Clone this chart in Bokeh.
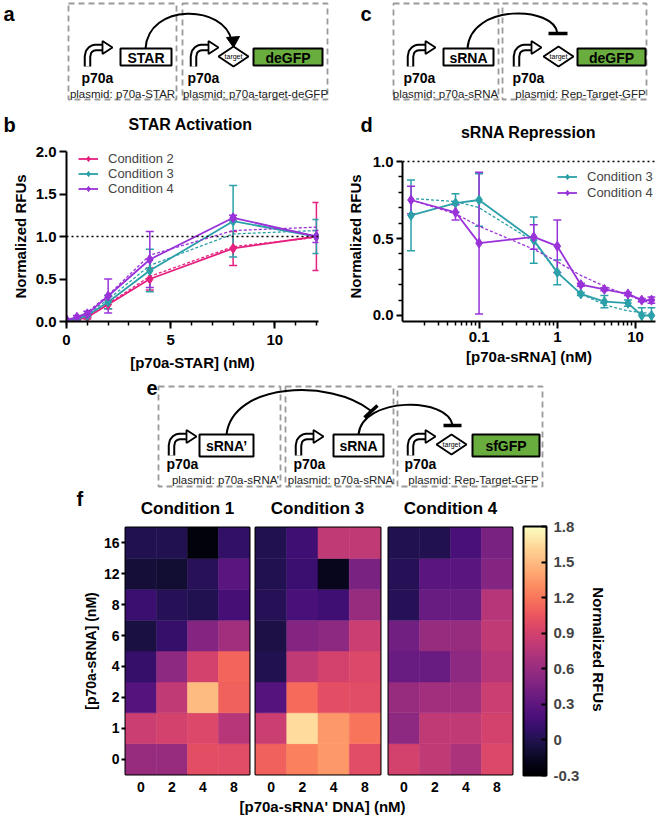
import math
from bokeh.plotting import figure
from bokeh.models import (Range1d, FactorRange, ColumnDataSource, Whisker, TeeHead, Span,
                          Legend, LegendItem, FixedTicker, CustomJSTickFormatter,
                          LinearColorMapper, ColorBar, NumeralTickFormatter)
from bokeh.layouts import column, row
from bokeh.palettes import Magma256
from bokeh.core.properties import value
from bokeh.embed import file_html
from bokeh.resources import INLINE

FONT = "Liberation Sans"

# ---------------- data ----------------
# panel b : STAR activation
star_nM = [0, 0.5, 1, 2, 4, 8, 12]
b_cond2 = [0.0, 0.02, 0.05, 0.20, 0.50, 0.86, 1.00]
b_cond2_err = [0.0, 0.01, 0.02, 0.05, 0.13, 0.20, 0.40]
b_cond2_fit = [0.0, 0.03, 0.07, 0.21, 0.53, 0.88, 0.99]
b_cond3 = [0.01, 0.03, 0.07, 0.23, 0.60, 1.18, 1.00]
b_cond3_err = [0.0, 0.01, 0.02, 0.08, 0.25, 0.42, 0.20]
b_cond3_fit = [0.0, 0.04, 0.09, 0.26, 0.66, 1.03, 1.07]
b_cond4 = [0.02, 0.05, 0.09, 0.30, 0.73, 1.22, 1.00]
b_cond4_err = [0.01, 0.02, 0.03, 0.20, 0.33, 0.03, 0.07]
b_cond4_fit = [0.0, 0.05, 0.11, 0.31, 0.78, 1.07, 1.11]

# panel d : sRNA repression
srna_nM = [0.0135, 0.05, 0.1, 0.5, 1, 2, 4, 8, 12, 16]
d_cond3 = [0.65, 0.73, 0.75, 0.49, 0.28, 0.14, 0.09, 0.08, 0.0, 0.0]
d_cond3_err = [0.23, 0.06, 0.17, 0.15, 0.08, 0.01, 0.04, 0.02, 0.05, 0.05]
d_cond3_fit = [0.76, 0.74, 0.70, 0.48, 0.28, 0.14, 0.07, 0.03, 0.02, 0.01]
d_cond4 = [0.75, 0.67, 0.47, 0.51, 0.45, 0.20, 0.17, 0.14, 0.10, 0.10]
d_cond4_err = [0.09, 0.05, 0.46, 0.08, 0.17, 0.01, 0.01, 0.01, 0.01, 0.02]
d_cond4_fit = [0.75, 0.66, 0.58, 0.43, 0.35, 0.26, 0.19, 0.13, 0.10, 0.08]

# panel f : heatmaps (rows = [p70a-sRNA], cols = [p70a-sRNA' DNA])
srna_levels = ["0", "1", "2", "4", "6", "8", "12", "16"]
srnap_levels = ["0", "2", "4", "8"]
heat_cond1 = [[0.60, 0.60, 1.00, 0.98],
              [0.85, 0.90, 0.95, 0.75],
              [0.25, 0.80, 1.50, 1.10],
              [0.10, 0.55, 0.90, 1.12],
              [-0.05, 0.10, 0.50, 0.65],
              [0.12, 0.02, 0.00, 0.17],
              [-0.08, -0.10, 0.03, 0.28],
              [0.00, 0.00, -0.25, 0.08]]
heat_cond3 = [[1.10, 1.25, 1.35, 0.98],
              [0.85, 1.65, 1.35, 1.20],
              [0.25, 1.15, 1.00, 0.98],
              [0.00, 0.80, 0.90, 0.95],
              [-0.03, 0.50, 0.55, 0.85],
              [0.02, 0.20, 0.15, 0.60],
              [0.00, 0.12, -0.18, 0.45],
              [0.00, 0.15, 0.80, 0.80]]
heat_cond4 = [[0.90, 0.80, 0.70, 0.95],
              [0.55, 0.80, 0.80, 0.90],
              [0.60, 0.65, 0.65, 0.85],
              [0.35, 0.35, 0.55, 0.75],
              [0.40, 0.60, 0.60, 0.80],
              [0.02, 0.35, 0.35, 0.75],
              [0.02, 0.28, 0.28, 0.50],
              [0.00, 0.00, 0.20, 0.45]]
cbar_ticks = [-0.3, 0, 0.3, 0.6, 0.9, 1.2, 1.5, 1.8]

PINK = "#e5207f"
TEAL = "#2ba0a8"
PURPLE = "#9a32d9"
GREEN = "#6aad3f"
BOXGRAY = "#9a9a9a"


# ---------------- helpers ----------------
def canvas(w, h, x0, x1, y0, y1, mbt=0, mbb=0):
    p = figure(width=w, height=h, x_range=Range1d(x0, x1), y_range=Range1d(y1, y0),
               x_axis_type=None, y_axis_type=None, output_backend="svg",
               toolbar_location=None, min_border=0, min_border_top=mbt, min_border_bottom=mbb)
    p.outline_line_color = None
    p.background_fill_color = "white"
    return p


def txt(p, x, y, s, size, bold=True, align="center", color="black", angle=0.0):
    p.text(x=[x], y=[y], text=[s], text_font=value(FONT), text_font_size=f"{size}px",
           text_font_style="bold" if bold else "normal", text_align=align,
           text_baseline="middle", text_color=color, angle=angle)


def dbox(p, l, r, t, b):
    p.quad(left=[l], right=[r], top=[t], bottom=[b], fill_color=None,
           line_color=BOXGRAY, line_width=1.8, line_dash="6 4")


def gene(p, l, r, t, b, label, fill="white"):
    p.quad(left=[l], right=[r], top=[t], bottom=[b], fill_color=fill,
           line_color="black", line_width=2)
    txt(p, (l + r) / 2, (t + b) / 2 + 0.5, label, 14)


def promoter(p, x0, yb):
    xs = [x0, x0, x0 + 1, x0 + 3, x0 + 5.5, x0 + 8, x0 + 16]
    ys = [yb, yb - 10, yb - 14.5, yb - 17, yb - 18.5, yb - 19, yb - 19]
    p.line(xs, ys, line_width=7.5, color="black", line_join="round")
    p.line(xs, ys, line_width=3.5, color="white", line_join="round")
    p.patch([x0 + 15, x0 + 25, x0 + 15], [yb - 25.5, yb - 19, yb - 12.5],
            fill_color="white", line_color="black", line_width=1.8)


def target(p, cx, cy):
    p.patch([cx - 15, cx, cx + 15, cx], [cy, cy - 10, cy, cy + 10],
            fill_color="white", line_color="black", line_width=2)
    txt(p, cx, cy, "target", 7, bold=False)


def style_axis(ax, size=15, tick_out=7):
    ax.axis_line_width = 2
    ax.axis_line_color = "black"
    ax.major_tick_line_width = 2
    ax.minor_tick_line_width = 1.5
    ax.major_tick_line_color = "black"
    ax.minor_tick_line_color = "black"
    ax.major_tick_out = tick_out
    ax.major_tick_in = 0
    ax.minor_tick_out = 4
    ax.minor_tick_in = 0
    ax.major_label_text_font = FONT
    ax.major_label_text_font_style = "bold"
    ax.major_label_text_font_size = f"{size}px"
    ax.major_label_text_color = "black"
    ax.axis_label_text_font = FONT
    ax.axis_label_text_font_style = "bold"
    ax.axis_label_text_font_size = f"{size}px"
    ax.axis_label_text_color = "black"


def series(p, x, y, err, fit, color):
    lower = [a - e for a, e in zip(y, err)]
    upper = [a + e for a, e in zip(y, err)]
    src = ColumnDataSource(dict(x=x, y=y, lower=lower, upper=upper, fit=fit))
    p.line("x", "fit", source=src, color=color, line_width=1.3, line_dash="3 2")
    w = Whisker(base="x", upper="upper", lower="lower", source=src, line_color=color,
                line_width=1.5,
                upper_head=TeeHead(size=8, line_color=color, line_width=1.5),
                lower_head=TeeHead(size=8, line_color=color, line_width=1.5))
    p.add_layout(w)
    lr = p.line("x", "y", source=src, color=color, line_width=1.8)
    sr = p.scatter("x", "y", source=src, marker="diamond", size=10, fill_color=color,
                   line_color=color)
    return [lr, sr]


def style_legend(lg, spacing):
    lg.border_line_color = None
    lg.background_fill_alpha = 0
    lg.label_text_font = FONT
    lg.label_text_font_size = "13px"
    lg.glyph_width = 20
    lg.glyph_height = 13
    lg.label_height = 13
    lg.spacing = spacing
    lg.padding = 0
    lg.margin = 0
    lg.label_standoff = 10


# ---------------- top diagrams (a, c) ----------------
top = canvas(658, 142, 0, 658, 0, 142)
# panel a
dbox(top, 68, 176, 3, 99)
dbox(top, 182, 327, 3, 99)
promoter(top, 87, 66)
gene(top, 120, 171, 48, 65, "STAR")
txt(top, 81, 77, "p70a", 14, align="left")
top.bezier(x0=[145], y0=[48], x1=[231], y1=[40], cx0=[148], cy0=[2], cx1=[224], cy1=[4],
           line_color="black", line_width=2)
top.patch([233, 226, 239], [47, 37, 36], fill_color="black", line_color="black")
promoter(top, 193, 66)
txt(top, 187, 77, "p70a", 14, align="left")
target(top, 233, 56)
gene(top, 253, 322, 48, 65, "deGFP", fill=GREEN)
txt(top, 122, 93, "plasmid: p70a-STAR", 11.5, bold=False, color="#222222")
txt(top, 255, 93, "plasmid: p70a-target-deGFP", 11.5, bold=False, color="#222222")
# panel c
dbox(top, 393, 498, 3, 99)
dbox(top, 502, 646, 3, 99)
promoter(top, 410, 66)
txt(top, 403, 77, "p70a", 14, align="left")
gene(top, 443, 493, 48, 65, "sRNA")
top.bezier(x0=[467], y0=[48], x1=[557], y1=[33], cx0=[470], cy0=[3], cx1=[554], cy1=[5],
           line_color="black", line_width=2)
top.line([548, 567], [33, 33], line_color="black", line_width=3.5)
promoter(top, 516, 66)
txt(top, 512, 77, "p70a", 14, align="left")
target(top, 558, 56)
gene(top, 577, 645, 48, 65, "deGFP", fill=GREEN)
txt(top, 445, 93, "plasmid: p70a-sRNA", 11.5, bold=False, color="#222222")
txt(top, 580, 93, "plasmid: Rep-Target-GFP", 11.5, bold=False, color="#222222")
# letters and titles
txt(top, 3, 13, "a", 20, align="left")
txt(top, 360, 13, "c", 20, align="left")
txt(top, 3, 124, "b", 20, align="left")
txt(top, 360, 124, "d", 20, align="left")
txt(top, 190, 124, "STAR Activation", 16)
txt(top, 528, 132, "sRNA Repression", 16)

# ---------------- panel b ----------------
pB = figure(width=330, height=232, x_range=Range1d(0, 12.1), y_range=Range1d(0, 2.0),
            output_backend="svg", toolbar_location=None,
            min_border_left=66, min_border_right=12, min_border_top=9, min_border_bottom=53)
pB.outline_line_color = None
pB.grid.visible = False
pB.add_layout(Span(location=1.0, dimension="width", line_color="black", line_width=1.5,
                   line_dash="2 3"))
rb2 = series(pB, star_nM, b_cond2, b_cond2_err, b_cond2_fit, PINK)
rb3 = series(pB, star_nM, b_cond3, b_cond3_err, b_cond3_fit, TEAL)
rb4 = series(pB, star_nM, b_cond4, b_cond4_err, b_cond4_fit, PURPLE)
pB.xaxis.ticker = FixedTicker(ticks=[0, 5, 10], minor_ticks=list(range(0, 13)))
pB.yaxis.ticker = FixedTicker(ticks=[0, 0.5, 1.0, 1.5, 2.0], minor_ticks=[])
pB.yaxis.formatter = NumeralTickFormatter(format="0.0")
pB.xaxis.axis_label = "[p70a-STAR] (nM)"
pB.yaxis.axis_label = "Normalized RFUs"
style_axis(pB.xaxis[0])
style_axis(pB.yaxis[0])
pB.yaxis.major_label_standoff = 3
pB.yaxis.axis_label_standoff = 4
pB.xaxis.major_label_standoff = 6
pB.xaxis.axis_label_standoff = 6
legB = Legend(items=[LegendItem(label="Condition 2", renderers=rb2),
                     LegendItem(label="Condition 3", renderers=rb3),
                     LegendItem(label="Condition 4", renderers=rb4)],
              location=(12, 125))
style_legend(legB, -2)
pB.add_layout(legB)

# ---------------- panel d ----------------
pD = figure(width=328, height=232, x_axis_type="log", x_range=Range1d(0.0105, 18),
            y_range=Range1d(-0.039, 1.065), output_backend="svg", toolbar_location=None,
            min_border_left=72, min_border_right=3, min_border_top=9, min_border_bottom=53)
pD.outline_line_color = None
pD.grid.visible = False
pD.add_layout(Span(location=1.0, dimension="width", line_color="black", line_width=1.5,
                   line_dash="2 3"))
rd3 = series(pD, srna_nM, d_cond3, d_cond3_err, d_cond3_fit, TEAL)
rd4 = series(pD, srna_nM, d_cond4, d_cond4_err, d_cond4_fit, PURPLE)
x_minor = [m * 10.0 ** e for e in (-2, -1, 0, 1) for m in range(2, 10)]
pD.xaxis.ticker = FixedTicker(ticks=[0.1, 1, 10], minor_ticks=x_minor)
pD.xaxis.formatter = CustomJSTickFormatter(code="return String(tick);")
pD.yaxis.ticker = FixedTicker(ticks=[0, 0.5, 1.0],
                              minor_ticks=[0.1, 0.2, 0.3, 0.4, 0.6, 0.7, 0.8, 0.9])
pD.yaxis.formatter = NumeralTickFormatter(format="0.0")
pD.yaxis.bounds = (-0.039, 1.0)
pD.xaxis.axis_label = "[p70a-sRNA] (nM)"
pD.yaxis.axis_label = "Normalized RFUs"
style_axis(pD.xaxis[0])
style_axis(pD.yaxis[0], tick_out=6)
pD.yaxis.major_label_standoff = 3
pD.yaxis.axis_label_standoff = 6
pD.xaxis.major_label_standoff = 3
pD.xaxis.axis_label_standoff = 3
legD = Legend(items=[LegendItem(label="Condition 3", renderers=rd3),
                     LegendItem(label="Condition 4", renderers=rd4)],
              location=(155, 121))
style_legend(legD, 1)
pD.add_layout(legD)

# ---------------- panel e diagram + f labels ----------------
E_TOP, E_BOT = 374, 517
pE = canvas(658, E_BOT - E_TOP, 0, 658, E_TOP, E_BOT)
dbox(pE, 158, 280, 386, 486)
dbox(pE, 285, 393, 386, 486)
dbox(pE, 397, 542, 386, 486)
promoter(pE, 171, 455)
txt(pE, 166, 463, "p70a", 14, align="left")
gene(pE, 199, 253, 434, 456, "sRNA\u2019")
pE.bezier(x0=[226], y0=[434], x1=[370], y1=[410], cx0=[232], cy0=[382], cx1=[330], cy1=[378],
          line_color="black", line_width=2)
pE.line([364, 377], [417, 405], line_color="black", line_width=3.5)
promoter(pE, 298, 455)
txt(pE, 293, 463, "p70a", 14, align="left")
gene(pE, 333, 383, 434, 456, "sRNA")
pE.bezier(x0=[358], y0=[434], x1=[452], y1=[425], cx0=[362], cy0=[396], cx1=[448], cy1=[396],
          line_color="black", line_width=2)
pE.line([443, 461], [425, 425], line_color="black", line_width=3.5)
promoter(pE, 410, 455)
txt(pE, 404, 463, "p70a", 14, align="left")
target(pE, 451, 444)
gene(pE, 472, 539, 434, 456, "sfGFP", fill=GREEN)
txt(pE, 225, 479, "plasmid: p70a-sRNA\u2019", 11.5, bold=False, color="#222222")
txt(pE, 340, 479, "plasmid: p70a-sRNA", 11.5, bold=False, color="#222222")
txt(pE, 473, 479, "plasmid: Rep-Target-GFP", 11.5, bold=False, color="#222222")
txt(pE, 146, 387, "e", 20, align="left")
txt(pE, 76, 498, "f", 20, align="left")
txt(pE, 187, 508, "Condition 1", 17)
txt(pE, 317, 508, "Condition 3", 17)
txt(pE, 450, 508, "Condition 4", 17)

# ---------------- heatmaps ----------------
mapper = LinearColorMapper(palette=Magma256, low=-0.3, high=1.8)
H_TOP, H_BOT = E_BOT, 798
HT, HB = 527 - H_TOP, H_BOT - 774


def heat(vals, width, mbl, mbr, show_y):
    xs, ys, vs = [], [], []
    for ri, lvl in enumerate(srna_levels):
        for ci, c in enumerate(srnap_levels):
            xs.append(c)
            ys.append(lvl)
            vs.append(vals[ri][ci])
    src = ColumnDataSource(dict(x=xs, y=ys, v=vs))
    p = figure(width=width, height=H_BOT - H_TOP, x_range=FactorRange(*srnap_levels),
               y_range=FactorRange(*srna_levels), output_backend="svg",
               toolbar_location=None, min_border_left=mbl, min_border_right=mbr,
               min_border_top=HT, min_border_bottom=HB)
    p.rect(x="x", y="y", width=1, height=1, source=src,
           fill_color={"field": "v", "transform": mapper},
           line_color={"field": "v", "transform": mapper}, line_width=0.5)
    p.grid.visible = False
    p.outline_line_color = "black"
    p.outline_line_width = 2
    for ax in [p.xaxis[0], p.yaxis[0]]:
        style_axis(ax, size=14, tick_out=4)
        ax.axis_line_color = None
        ax.major_label_standoff = 2
    p.xaxis.major_tick_out = 0
    p.xaxis.major_label_standoff = 7
    if show_y:
        p.yaxis.axis_label = "[p70a-sRNA] (nM)"
        p.yaxis.axis_label_standoff = 2
    else:
        p.yaxis.visible = False
    return p


h1 = heat(heat_cond1, 252, 125, 3, True)
h3 = heat(heat_cond3, 132, 3, 4, False)
h4 = heat(heat_cond4, 132, 4, 4, False)

# colour bar panel: frame spans y 527..774 (aligned with the heatmap frames)
cb = canvas(142, H_BOT - H_TOP, 516, 658, 527, 774, mbt=HT, mbb=HB)
cbar = ColorBar(color_mapper=mapper, location=(7, -1), width=23, height=249,
                padding=0, margin=0, ticker=FixedTicker(ticks=cbar_ticks),
                formatter=CustomJSTickFormatter(code="return tick === 0 ? '0' : tick.toFixed(1);"),
                label_standoff=7, major_label_text_font=FONT,
                major_label_text_font_style="bold", major_label_text_font_size="15px",
                major_tick_line_color="black", major_tick_line_width=2,
                major_tick_in=5, major_tick_out=0, bar_line_color="black", bar_line_width=2,
                background_fill_alpha=0)
cb.add_layout(cbar, "center")
txt(cb, 598, 651, "Normalized  RFUs", 15, angle=-math.pi / 2)

bottom = canvas(658, 816 - H_BOT, 0, 658, H_BOT, 816)
txt(bottom, 322, 806, "[p70a-sRNA' DNA] (nM)", 15)

layout = column(top, row(pB, pD), pE, row(h1, h3, h4, cb), bottom)

open("out.html", "w").write(file_html(layout, INLINE))
